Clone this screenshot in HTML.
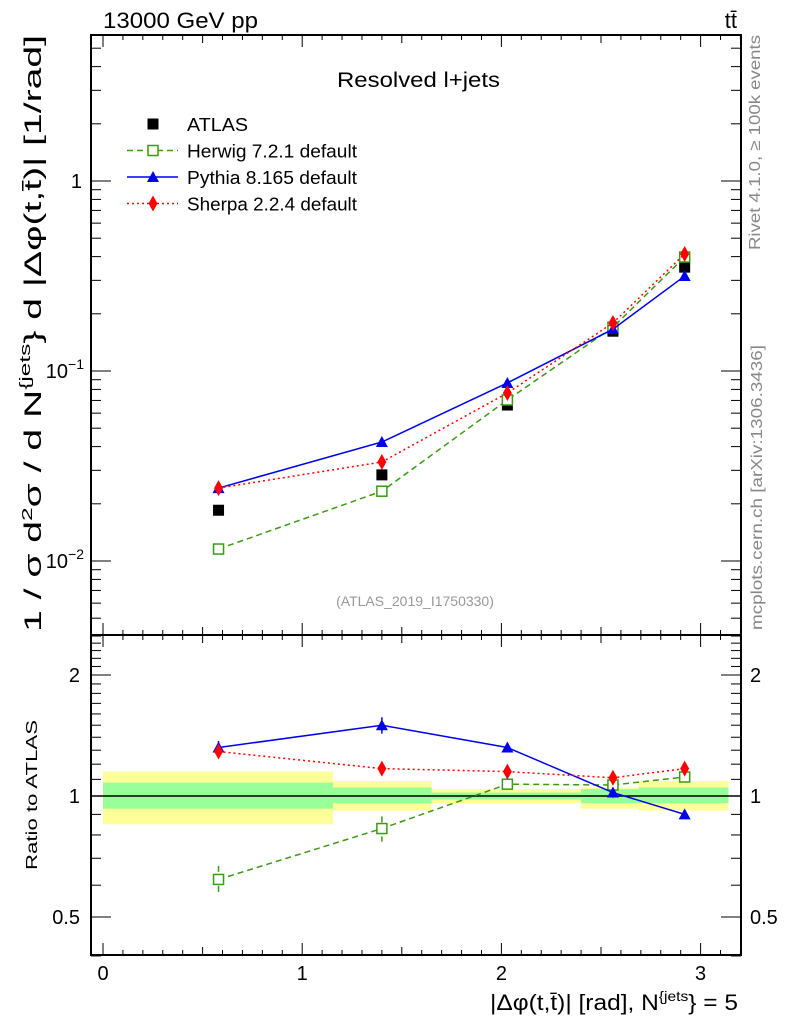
<!DOCTYPE html>
<html><head><meta charset="utf-8"><style>
html,body{margin:0;padding:0;background:#fff;}
svg{display:block;font-family:"Liberation Sans",sans-serif;}
</style></head><body>
<svg id="chart" width="786" height="1024" viewBox="0 0 786 1024" xmlns="http://www.w3.org/2000/svg">
<g id="bands"></g>
<g id="ticks"></g>
<g id="series"></g>
<rect x="91" y="35" width="650" height="600" fill="none" stroke="#000" stroke-width="2"/>
<rect x="91" y="635" width="650" height="320" fill="none" stroke="#000" stroke-width="2"/>
<text x="103" y="28" font-size="22" textLength="155" lengthAdjust="spacingAndGlyphs">13000 GeV pp</text>
<text x="737" y="28" font-size="22" text-anchor="end">tt̄</text>
<text x="337" y="87" font-size="21" textLength="163" lengthAdjust="spacingAndGlyphs">Resolved l+jets</text>
<text x="415" y="606" font-size="14" fill="#999" text-anchor="middle">(ATLAS_2019_I1750330)</text>
<text transform="translate(760,250) rotate(-90)" font-size="16" fill="#888" textLength="215" lengthAdjust="spacingAndGlyphs">Rivet 4.1.0, ≥ 100k events</text>
<text transform="translate(762,630) rotate(-90)" font-size="16" fill="#888" textLength="285" lengthAdjust="spacingAndGlyphs">mcplots.cern.ch [arXiv:1306.3436]</text>
<text transform="translate(41,632) rotate(-90)" font-size="24" textLength="597" lengthAdjust="spacingAndGlyphs">1 / σ d<tspan dy="-9" font-size="15">2</tspan><tspan dy="9">σ / d N</tspan><tspan dy="-11" font-size="15">{jets</tspan><tspan dy="11">} d |Δφ(t,t̄)| [1/rad]</tspan></text>
<text transform="translate(37,870) rotate(-90)" font-size="16" textLength="150" lengthAdjust="spacingAndGlyphs">Ratio to ATLAS</text>
<text x="490" y="1010" font-size="22" textLength="248" lengthAdjust="spacingAndGlyphs">|Δφ(t,t̄)| [rad], N<tspan dy="-9" font-size="14">{jets</tspan><tspan dy="9">} = 5</tspan></text>
<g id="legend"></g>
</svg>
<script>
const xCenters=[0.58,1.40,2.03,2.56,2.92];
const binEdges=[0,1.155,1.65,2.40,2.69,3.14];
const atlasVals=[0.0185,0.0284,0.0662,0.162,0.352];
const herwigVals=[0.01156,0.0233,0.0704,0.170,0.398];
const pythiaVals=[0.0242,0.0423,0.0865,0.166,0.316];
const sherpaVals=[0.0242,0.0332,0.0766,0.179,0.413];
const herwigRatio=[0.62,0.83,1.07,1.065,1.115];
const pythiaRatio=[1.32,1.50,1.32,1.02,0.90];
const sherpaRatio=[1.29,1.17,1.15,1.11,1.17];
const herwigRatioErr=[0.05,0.06,0.03,0.02,0.02];
const pythiaRatioErr=[0.05,0.07,0.03,0.03,0.01];
const sherpaRatioErr=[0.04,0.04,0.02,0.02,0.02];
const statLo=[0.93,0.96,0.98,0.96,0.96];
const statHi=[1.08,1.05,1.02,1.04,1.05];
const totLo=[0.85,0.92,0.96,0.93,0.92];
const totHi=[1.15,1.09,1.04,1.05,1.09];
const xTickLabels=[0,1,2,3];
const mainTickLabels=[1,0.1,0.01];
const ratioTickLabels=[0.5,1,2];
const legendLabels=['ATLAS','Herwig 7.2.1 default','Pythia 8.165 default','Sherpa 2.2.4 default'];

const NS="http://www.w3.org/2000/svg";
const X=v=>103+v*199.2;
const YM=v=>181-Math.log10(v)*190;
const YR=v=>796-Math.log10(v)*402;
function mk(tag,attrs,parent){const e=document.createElementNS(NS,tag);for(const k in attrs)e.setAttribute(k,attrs[k]);parent.appendChild(e);return e;}
const bands=document.getElementById('bands'),ticks=document.getElementById('ticks'),ser=document.getElementById('series'),leg=document.getElementById('legend');

for(let i=0;i<5;i++){
  let r=mk('rect',{x:X(binEdges[i]),y:YR(totHi[i]),width:X(binEdges[i+1])-X(binEdges[i]),height:YR(totLo[i])-YR(totHi[i]),fill:'#ffff99'},bands);
  
  
}
for(let i=0;i<5;i++){
  let r=mk('rect',{x:X(binEdges[i]),y:YR(statHi[i]),width:X(binEdges[i+1])-X(binEdges[i]),height:YR(statLo[i])-YR(statHi[i]),fill:'#99ff99'},bands);
  
  
}
let one=mk('line',{x1:91,x2:741,y1:YR(1),y2:YR(1),stroke:'#000','stroke-width':1.5},bands);



for(let v=0;v<=3.2001;v+=0.1){
  const major=Math.abs(v-Math.round(v))<1e-6;
  const mid=Math.abs(v*2-Math.round(v*2))<1e-6;
  const len=major?12:(mid?8:5);
  [[35,1],[635,-1],[635,1],[955,-1]].forEach(([y,d])=>{mk('line',{x1:X(v),x2:X(v),y1:y,y2:y+d*len,stroke:'#000','stroke-width':1},ticks);});
}
xTickLabels.forEach(v=>{let t=mk('text',{x:X(v),y:980,'font-size':20,'text-anchor':'middle'},ticks);t.textContent=v;
  
  });
for(let d=-3;d<=0;d++){for(let m=1;m<=9;m++){const v=m*Math.pow(10,d);const y=YM(v);if(y<35||y>635)continue;const len=m===1?20:10;
  mk('line',{x1:91,x2:91+len,y1:y,y2:y,stroke:'#000'},ticks);mk('line',{x1:741,x2:741-len,y1:y,y2:y,stroke:'#000'},ticks);}}
mainTickLabels.forEach(v=>{const y=YM(v)+7;let t;
  if(v===1){t=mk('text',{x:82,y:y,'font-size':20,'text-anchor':'end'},ticks);t.textContent='1';}
  else{t=mk('text',{x:84,y:y,'font-size':20,'text-anchor':'end'},ticks);t.innerHTML='10<tspan dy="-9" font-size="14">'+'−'+Math.round(-Math.log10(v))+'</tspan>';}
  
  });
for(let v=0.4;v<=2.5001;v+=0.1){const y=YR(v);const major=[0.5,1,2].some(m=>Math.abs(m-v)<1e-6);const len=major?20:10;
  mk('line',{x1:91,x2:91+len,y1:y,y2:y,stroke:'#000'},ticks);mk('line',{x1:741,x2:741-len,y1:y,y2:y,stroke:'#000'},ticks);}
ratioTickLabels.forEach(v=>{const y=YR(v)+7;
  let t=mk('text',{x:80,y:y,'font-size':20,'text-anchor':'end'},ticks);t.textContent=v;
  
  
  let t2=mk('text',{x:750,y:y,'font-size':20},ticks);t2.textContent=v;
  
  });

function marker(type,color,cx,cy,parent){
  let e;
  if(type==='square') e=mk('rect',{x:cx-5.5,y:cy-5.5,width:11,height:11,fill:'#000'},parent);
  else if(type==='open') e=mk('rect',{x:cx-5,y:cy-5,width:10,height:10,fill:'#fff',stroke:color,'stroke-width':1.5},parent);
  else if(type==='tri') e=mk('polygon',{points:`${cx},${cy-6} ${cx-6},${cy+5} ${cx+6},${cy+5}`,fill:color},parent);
  else e=mk('polygon',{points:`${cx},${cy-8} ${cx-4.5},${cy} ${cx},${cy+8} ${cx+4.5},${cy}`,fill:color},parent);
  return e;
}
const models=[
  {name:'herwig',vals:herwigVals,ratio:herwigRatio,err:herwigRatioErr,color:'#3a9a10',dash:'6,4',m:'open'},
  {name:'pythia',vals:pythiaVals,ratio:pythiaRatio,err:pythiaRatioErr,color:'#0000ee',dash:'',m:'tri'},
  {name:'sherpa',vals:sherpaVals,ratio:sherpaRatio,err:sherpaRatioErr,color:'#ff0000',dash:'2,3',m:'dia'}
];
atlasVals.forEach((v,i)=>{let e=marker('square','#000',X(xCenters[i]),YM(v),ser);
  
  });
models.forEach(md=>{
  let p=mk('polyline',{points:xCenters.map((x,i)=>X(x)+','+YM(md.vals[i])).join(' '),fill:'none',stroke:md.color,'stroke-width':1.5,'stroke-dasharray':md.dash},ser);
  
  
  let pr=mk('polyline',{points:xCenters.map((x,i)=>X(x)+','+YR(md.ratio[i])).join(' '),fill:'none',stroke:md.color,'stroke-width':1.5,'stroke-dasharray':md.dash},ser);
  
  
  xCenters.forEach((x,i)=>{
    const cx=X(x);
    mk('line',{x1:cx,x2:cx,y1:YR(md.ratio[i]+md.err[i]),y2:YR(md.ratio[i]-md.err[i]),stroke:md.color,'stroke-width':1.5,'stroke-dasharray':md.dash},ser);
    let e=marker(md.m,md.color,cx,YM(md.vals[i]),ser);
    
    
    let r=marker(md.m,md.color,cx,YR(md.ratio[i]),ser);
    
    
  });
});
const legWidths=[61,170,170,170];
const legRows=[{m:'square',color:'#000',dash:null},...models.map(m=>({m:m.m,color:m.color,dash:m.dash}))];
legRows.forEach((r,i)=>{
  const y=124+i*26.5;
  const g=mk('g',{},leg);
  
  
  if(r.dash!==null) mk('line',{x1:127,x2:178,y1:y,y2:y,stroke:r.color,'stroke-width':1.5,'stroke-dasharray':r.dash},g);
  marker(r.m,r.color,153,y,g);
  const t=mk('text',{x:187,y:y+7,'font-size':18,textLength:legWidths[i],lengthAdjust:'spacingAndGlyphs'},g);t.textContent=legendLabels[i];
});
</script>
</body></html>
